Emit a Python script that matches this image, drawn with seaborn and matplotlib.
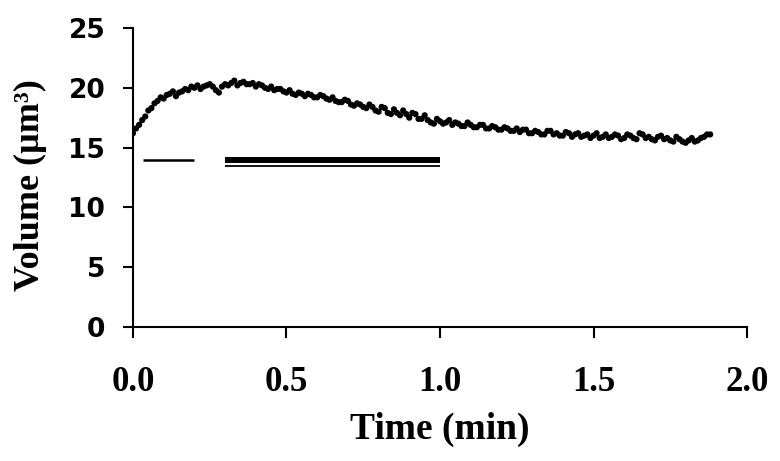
import matplotlib
matplotlib.use("Agg")
import pandas as pd
import seaborn as sns
import matplotlib.pyplot as plt

# cell volume trace, one point every 0.01 min
time_min = [
    0.00, 0.01, 0.02, 0.03, 0.04, 0.05, 0.06, 0.07, 0.08, 0.09,
    0.10, 0.11, 0.12, 0.13, 0.14, 0.15, 0.16, 0.17, 0.18, 0.19,
    0.20, 0.21, 0.22, 0.23, 0.24, 0.25, 0.26, 0.27, 0.28, 0.29,
    0.30, 0.31, 0.32, 0.33, 0.34, 0.35, 0.36, 0.37, 0.38, 0.39,
    0.40, 0.41, 0.42, 0.43, 0.44, 0.45, 0.46, 0.47, 0.48, 0.49,
    0.50, 0.51, 0.52, 0.53, 0.54, 0.55, 0.56, 0.57, 0.58, 0.59,
    0.60, 0.61, 0.62, 0.63, 0.64, 0.65, 0.66, 0.67, 0.68, 0.69,
    0.70, 0.71, 0.72, 0.73, 0.74, 0.75, 0.76, 0.77, 0.78, 0.79,
    0.80, 0.81, 0.82, 0.83, 0.84, 0.85, 0.86, 0.87, 0.88, 0.89,
    0.90, 0.91, 0.92, 0.93, 0.94, 0.95, 0.96, 0.97, 0.98, 0.99,
    1.00, 1.01, 1.02, 1.03, 1.04, 1.05, 1.06, 1.07, 1.08, 1.09,
    1.10, 1.11, 1.12, 1.13, 1.14, 1.15, 1.16, 1.17, 1.18, 1.19,
    1.20, 1.21, 1.22, 1.23, 1.24, 1.25, 1.26, 1.27, 1.28, 1.29,
    1.30, 1.31, 1.32, 1.33, 1.34, 1.35, 1.36, 1.37, 1.38, 1.39,
    1.40, 1.41, 1.42, 1.43, 1.44, 1.45, 1.46, 1.47, 1.48, 1.49,
    1.50, 1.51, 1.52, 1.53, 1.54, 1.55, 1.56, 1.57, 1.58, 1.59,
    1.60, 1.61, 1.62, 1.63, 1.64, 1.65, 1.66, 1.67, 1.68, 1.69,
    1.70, 1.71, 1.72, 1.73, 1.74, 1.75, 1.76, 1.77, 1.78, 1.79,
    1.80, 1.81, 1.82, 1.83, 1.84, 1.85, 1.86, 1.87, 1.88]
volume = [
    16.2, 16.6, 16.9, 17.3, 17.6, 18.1, 18.3, 18.7, 18.9, 19.2,
    19.1, 19.4, 19.5, 19.7, 19.3, 19.6, 19.7, 19.9, 19.8, 20.1,
    20.0, 20.2, 19.9, 20.1, 20.2, 20.3, 20.1, 19.8, 19.6, 20.1,
    20.3, 20.2, 20.4, 20.6, 20.2, 20.4, 20.5, 20.3, 20.3, 20.4,
    20.1, 20.3, 20.2, 20.0, 19.9, 20.1, 19.8, 19.9, 19.9, 19.7,
    19.6, 19.8, 19.5, 19.4, 19.6, 19.5, 19.3, 19.5, 19.4, 19.2,
    19.2, 19.4, 19.3, 19.1, 19.0, 19.2, 18.9, 18.8, 18.8, 19.0,
    18.9, 18.6, 18.5, 18.7, 18.6, 18.4, 18.3, 18.6, 18.4, 18.1,
    18.0, 18.4, 18.3, 17.9, 17.8, 18.2, 17.9, 17.7, 18.1, 17.8,
    17.5, 17.9, 17.8, 17.4, 17.4, 17.7, 17.3, 17.1, 17.0, 17.4,
    17.2, 17.0, 17.1, 17.3, 16.9, 17.1, 17.0, 16.8, 16.8, 17.1,
    16.9, 16.7, 16.7, 16.9, 16.9, 16.6, 16.6, 16.8, 16.7, 16.5,
    16.5, 16.7, 16.6, 16.4, 16.4, 16.6, 16.3, 16.5, 16.5, 16.2,
    16.2, 16.4, 16.3, 16.1, 16.1, 16.4, 16.4, 16.1, 16.2, 16.0,
    16.0, 16.3, 16.2, 15.9, 16.1, 16.2, 15.9, 16.0, 16.1, 15.8,
    16.0, 16.2, 15.8, 15.9, 16.1, 15.8, 15.9, 16.1, 16.0, 15.7,
    15.8, 16.1, 16.0, 15.8, 15.7, 16.2, 16.1, 15.8, 15.9, 15.7,
    15.6, 15.9, 16.0, 15.7, 15.8, 15.6, 15.5, 15.9, 15.7, 15.5,
    15.4, 15.6, 15.8, 15.5, 15.6, 15.8, 15.9, 16.1, 16.1]

# treatment bars under the trace
bar_start = [0.033, 0.30, 0.30]
bar_end = [0.20, 1.00, 1.00]
bar_level = [14.0, 14.0, 13.45]
bar_width = [1.8, 4.3, 1.3]

x_ticks = [0.0, 0.5, 1.0, 1.5, 2.0]
x_ticklabels = ["0.0", "0.5", "1.0", "1.5", "2.0"]
y_ticks = [0, 5, 10, 15, 20, 25]

df = pd.DataFrame({"time": time_min, "volume": volume})

sns.set_style("ticks")
fig = plt.figure(figsize=(7.8, 4.61), dpi=100)
ax = fig.add_axes([0.1705, 0.2907, 0.7872, 0.6486])

sns.scatterplot(data=df, x="time", y="volume", ax=ax, color="black",
                s=20, edgecolor="none", legend=False)
for x0, x1, yv, lw in zip(bar_start, bar_end, bar_level, bar_width):
    ax.hlines(yv, x0, x1, color="black", linewidth=lw)

ax.set_xlim(0, 2.0)
ax.set_ylim(0, 25)
ax.set_xticks(x_ticks)
ax.set_yticks(y_ticks)
ax.set_xticklabels(x_ticklabels, fontfamily="Liberation Serif",
                   fontweight="bold", fontsize=25)
ax.set_yticklabels([str(v) for v in y_ticks], fontfamily="DejaVu Sans",
                   fontweight="bold", fontsize=19)
ax.tick_params(axis="x", length=8, width=1.5, pad=20, colors="black")
ax.tick_params(axis="y", length=7, width=1.5, pad=13, colors="black")
for side in ["left", "bottom"]:
    ax.spines[side].set_linewidth(1.5)
    ax.spines[side].set_color("black")
sns.despine(ax=ax)

ax.set_xlabel("Time (min)", fontfamily="Liberation Serif", fontweight="bold",
              fontsize=27, color="black")
ax.xaxis.set_label_coords(0.5, -0.284)
ax.set_ylabel("Volume (\u00b5m\u00b3)", fontfamily="Liberation Serif",
              fontweight="bold", fontsize=26, color="black")
ax.yaxis.set_label_coords(-0.14, 0.475)

fig.savefig("out.png", dpi=100)
